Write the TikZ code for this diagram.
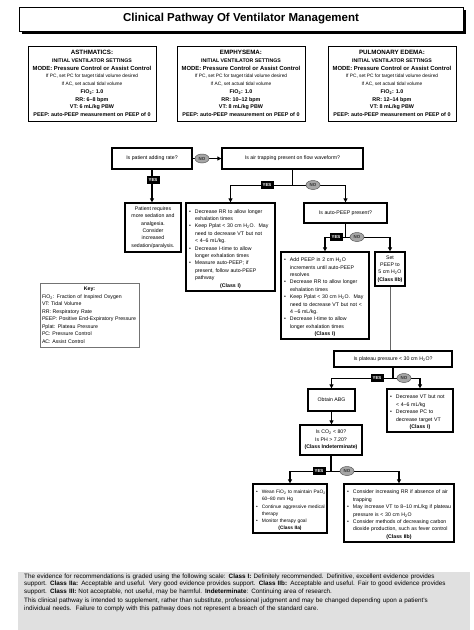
\documentclass[tikz,border=0pt]{standalone}
\usepackage{fontspec}
\setmainfont{Liberation Sans}
\usetikzlibrary{arrows.meta}
\usetikzlibrary{shapes}
\usetikzlibrary{shadows}

\setlength{\parindent}{0pt}
\hyphenpenalty=10000
\exhyphenpenalty=10000
\newcommand{\subtwo}{\textsubscript{2}}
\newcommand{\bitem}[1]{\par\hangindent=8pt\hangafter=1\noindent\makebox[8pt][l]{\hspace{2pt}\textbullet}{\let\\\newline#1}}
\newcommand{\classline}[1]{\par{\centering\textbf{(#1)}\par}}
\newcommand{\ventset}[3]{%
  {\fontsize{6.2}{7.7}\selectfont #1}\\
  {\fontsize{5.2}{7.7}\selectfont INITIAL VENTILATOR SETTINGS}\\
  {\fontsize{5.9}{7.7}\selectfont MODE: Pressure Control or Assist Control}\\
  {\mdseries\fontsize{4.8}{7.7}\selectfont If PC, set PC for target tidal volume desired}\\
  {\mdseries\fontsize{4.8}{7.7}\selectfont If AC, set actual tidal volume}\\
  FiO\subtwo: 1.0\\
  RR: #2 bpm\\
  VT: #3 mL/kg PBW\\
  PEEP: auto-PEEP measurement on PEEP of 0}

\tikzset{
  titlebox/.style={draw, line width=1pt, fill=white, minimum width=444pt, minimum height=24pt,
    font=\fontsize{11.5}{13}\selectfont\bfseries,
    drop shadow={shadow xshift=3pt, shadow yshift=-3pt, fill=black, opacity=1}},
  setbox/.style={draw, line width=0.8pt, align=center, inner sep=0pt, minimum width=128pt,
    minimum height=75pt, font=\fontsize{5.4}{7.7}\selectfont\bfseries},
  flowbox/.style={draw, line width=1.3pt, align=center, inner xsep=1pt, inner ysep=0pt,
    font=\fontsize{5.2}{7.4}\selectfont},
  listbox/.style={flowbox, align=left},
  keybox/.style={draw=black!55, line width=0.7pt, fill=white, align=left, text width=95pt,
    inner xsep=2pt, minimum height=64pt, font=\fontsize{5.2}{7.5}\selectfont,
    drop shadow={shadow xshift=1pt, shadow yshift=-1pt, fill=black!35, opacity=1}},
  yes/.style={fill=black, text=white, minimum width=13pt, minimum height=8pt, inner sep=0pt,
    font=\fontsize{4.4}{5}\selectfont\bfseries},
  no/.style={ellipse, draw=black!65, line width=0.5pt, fill=black!35, text=black!80,
    minimum width=14pt, minimum height=9pt, inner sep=0pt, font=\fontsize{4.4}{5}\selectfont\bfseries},
  link/.style={line width=1.1pt},
  arr/.style={link, -{Triangle[length=4pt, width=4pt]}},
  notetext/.style={anchor=north west, inner sep=0pt, text width=450pt, align=left,
    font=\fontsize{6.3}{7.5}\selectfont},
}

\begin{document}
\begin{tikzpicture}[x=1pt,y=-1pt]
  \useasboundingbox (0,0) rectangle (474,630);

  \node[titlebox] (title) at (241,19) {Clinical Pathway Of Ventilator Management};

  \begin{scope}[every node/.style={setbox}]
    \node (asthma) at (92,83.5) {\ventset{ASTHMATICS:}{6--8}{6}};
    \node (emphys) at (241,83.5) {\ventset{EMPHYSEMA:}{10--12}{8}};
    \node (edema) at (392,83.5) {\ventset{PULMONARY EDEMA:}{12--14}{8}};
  \end{scope}

  \node[keybox] (key) at (89.5,315) {{\centering\textbf{Key:}\par}
    FiO\subtwo: Fraction of Inspired Oxygen\\
    VT: Tidal Volume\\
    RR: Respiratory Rate\\
    PEEP: Positive End-Expiratory Pressure\\
    Pplat: Plateau Pressure\\
    PC: Pressure Control\\
    AC: Assist Control};

  \begin{scope}[every node/.style={flowbox}]
    \node[minimum width=80pt, minimum height=21pt] (rate) at (152,158.5) {Is patient adding rate?};
    \node[minimum width=141pt, minimum height=21pt] (trap) at (292.5,158.5) {Is air trapping present on flow waveform?};
    \node[minimum width=56pt, minimum height=49pt] (sedate) at (153,227.5) {Patient requires\\ more sedation and\\ analgesia.\\ Consider\\ increased\\ sedation/paralysis.};
    \node[listbox, text width=87pt, minimum height=88pt] (decrr) at (230.5,247) {%
      \bitem{Decrease RR to allow longer\\ exhalation times}
      \bitem{Keep Pplat < 30 cm H\subtwo O.\ \ May\\ need to decrease VT but not\\ < 4--6 mL/kg.}
      \bitem{Decrease I-time to allow\\ longer exhalation times}
      \bitem{Measure auto-PEEP; if\\ present, follow auto-PEEP\\ pathway}
      \classline{Class I}};
    \node[minimum width=83pt, minimum height=20pt] (autopeep) at (345.5,213) {Is auto-PEEP present?};
    \node[listbox, text width=86pt, minimum height=87pt] (addpeep) at (325,295.5) {%
      \bitem{Add PEEP in 2 cm H\subtwo O\\ increments until auto-PEEP\\ resolves}
      \bitem{Decrease RR to allow longer\\ exhalation times}
      \bitem{Keep Pplat < 30 cm H\subtwo O.\ \ May\\ need to decrease VT but not <\\ 4 --6 mL/kg.}
      \bitem{Decrease I-time to allow\\ longer exhalation times}
      \classline{Class I}};
    \node[minimum width=30pt, minimum height=34pt] (setpeep) at (390,269) {Set\\ PEEP to\\ 5 cm H\subtwo O\\ \textbf{(Class IIb)}};
    \node[minimum width=118pt, minimum height=16pt] (plat) at (393,359) {Is plateau pressure < 30 cm H\subtwo O?};
    \node[minimum width=47pt, minimum height=22pt] (abg) at (331.5,400) {Obtain ABG};
    \node[listbox, text width=64pt, minimum height=43pt] (decvt) at (420,410.5) {%
      \bitem{Decrease VT but not\\ < 4--6 mL/kg}
      \bitem{Decrease PC to\\ decrease target VT}
      \classline{Class I}};
    \node[minimum width=62pt, minimum height=30pt] (co2) at (331,440) {Is CO\subtwo{} < 80?\\ Is PH > 7.20?\\ \textbf{(Class Indeterminate)}};
    \node[listbox, text width=72pt, minimum height=49pt, font=\fontsize{4.85}{7.3}\selectfont] (wean) at (290,508.5) {%
      \bitem{Wean FiO\subtwo{} to maintain PaO\subtwo\\ 60--80 mm Hg}
      \bitem{Continue aggressive medical\\ therapy}
      \bitem{Monitor therapy goal}
      \classline{Class IIa}};
    \node[listbox, text width=108pt, minimum height=58pt] (consider) at (399,513) {%
      \bitem{Consider increasing RR if absence of air\\ trapping}
      \bitem{May increase VT to 8--10 mL/kg if plateau\\ pressure is < 30 cm H\subtwo O}
      \bitem{Consider methods of decreasing carbon\\ dioxide production, such as fever control}
      \classline{Class IIb}};
  \end{scope}

  \draw[arr] (rate) -- (trap);
  \draw[arr] (rate.south) -- (rate.south |- sedate.north);
  \draw[link] (trap.south) -- ++(0,16) coordinate (trapfork);
  \draw[arr] (trapfork) -| (decrr.north);
  \draw[arr] (trapfork) -| (autopeep.north);
  \draw[link] (autopeep.south) -- ++(0,14) coordinate (peepfork);
  \draw[arr] (peepfork) -| (addpeep.north);
  \draw[arr] (peepfork) -| (setpeep.north);
  \draw[line width=0.6pt, black!60] (setpeep.south) -- (setpeep.south |- plat.north);
  \draw[link] (plat.south) -- ++(0,11) coordinate (platfork);
  \draw[arr] (platfork) -| (abg.north);
  \draw[arr] (platfork) -| (decvt.north);
  \draw[arr] (abg.south) -- (abg.south |- co2.north);
  \draw[link] (co2.south) -- ++(0,16) coordinate (cofork);
  \draw[arr] (cofork) -| (wean.north);
  \draw[arr] (cofork) -| (consider.north);

  \node[no] (no1) at (202,158.5) {NO};
  \node[yes] (yes1) at (153,180) {YES};
  \node[yes] (yes2) at (267,185) {YES};
  \node[no] (no2) at (313,185) {NO};
  \node[yes] (yes3) at (336,237) {YES};
  \node[no] (no3) at (357,237) {NO};
  \node[yes] (yes4) at (377,378) {YES};
  \node[no] (no4) at (404,378) {NO};
  \node[yes] (yes5) at (319,471) {YES};
  \node[no] (no5) at (347,471) {NO};

  \fill[black!12] (18,572) rectangle (470,630);
  \node[notetext] (note) at (24,573.5) {The evidence for recommendations is graded using the following scale: \textbf{Class I:} Definitely recommended. Definitive, excellent evidence provides\\
    support. \textbf{Class IIa:} Acceptable and useful. Very good evidence provides support. \textbf{Class IIb:} Acceptable and useful. Fair to good evidence provides\\
    support. \textbf{Class III:} Not acceptable, not useful, may be harmful. \textbf{Indeterminate}: Continuing area of research.\par\vspace{2pt}
    This clinical pathway is intended to supplement, rather than substitute, professional judgment and may be changed depending upon a patient's\\
    individual needs.\ \ Failure to comply with this pathway does not represent a breach of the standard care.};
\end{tikzpicture}
\end{document}
